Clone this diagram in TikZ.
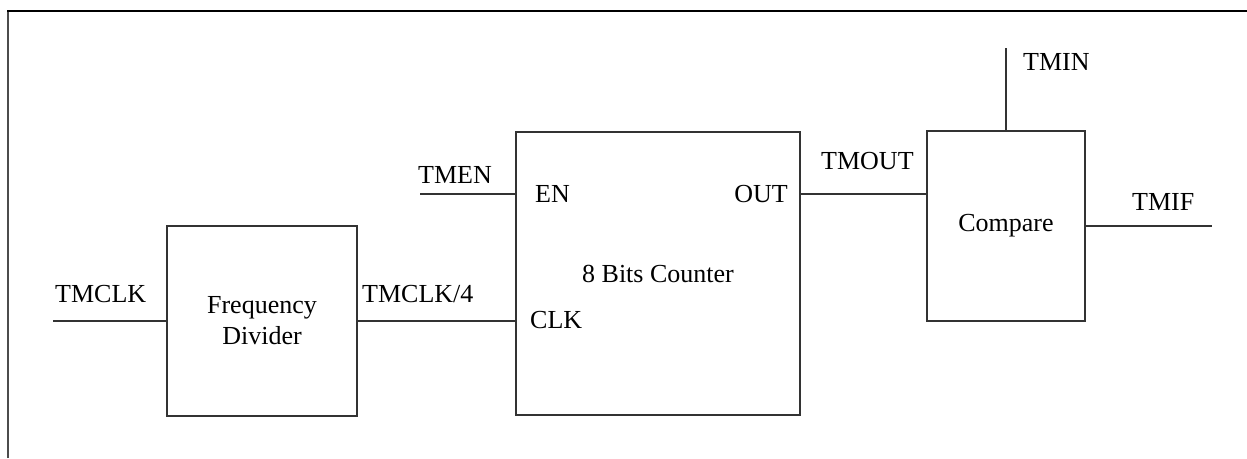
\documentclass[tikz,border=0pt]{standalone}
\usepackage{fontspec}
\setmainfont{Liberation Serif}
\begin{document}
\begin{tikzpicture}[x=1pt,y=-1pt,
  font=\fontsize{26}{31}\selectfont,
  blk/.style={draw=black!80,line width=1.3pt,inner sep=0pt,align=center},
  wire/.style={draw=black!80,line width=1.3pt},
  lbl/.style={inner sep=0pt,anchor=base west}]
\useasboundingbox (0,0) rectangle (1247,458);
% frame
\draw[line width=2pt,black!70] (8,458) -- (8,11);
\draw[line width=2pt,black] (7,11) -- (1247,11);
% blocks
\node[blk,minimum width=190pt,minimum height=190pt] (fd) at (262,321) {Frequency\\Divider};
\node[blk,minimum width=284pt,minimum height=283pt] (cnt) at (658,273.5) {\raisebox{-2pt}{8 Bits Counter}};
\node[blk,minimum width=158pt,minimum height=190pt] (cmp) at (1006,226) {Compare};
% pin coordinates
\coordinate (tmclk) at (53,321);
\coordinate (tmen) at (420,194);
\coordinate (tmin) at (1006,48);
\coordinate (tmif) at (1212,226);
% wires
\draw[wire] (tmclk) -- (fd.west);
\draw[wire] (fd.east) -- (fd.east -| cnt.west);
\draw[wire] (tmen) -- (tmen -| cnt.west);
\draw[wire] (tmen -| cnt.east) -- (tmen -| cmp.west);
\draw[wire] (tmin) -- (cmp.north);
\draw[wire] (cmp.east) -- (tmif);
% labels
\node[lbl] (l1) at (55,302) {TMCLK};
\node[lbl] (l2) at (362,302) {TMCLK/4};
\node[lbl] (l3) at (418,183) {TMEN};
\node[lbl] (l4) at (535,202) {EN};
\node[lbl,anchor=base east] (l5) at (788,202) {OUT};
\node[lbl] (l6) at (530,328) {CLK};
\node[lbl] (l7) at (821,169.5) {TMOUT};
\node[lbl] (l8) at (1023,70) {TMIN};
\node[lbl] (l9) at (1132,210) {TMIF};
\end{tikzpicture}
\end{document}
